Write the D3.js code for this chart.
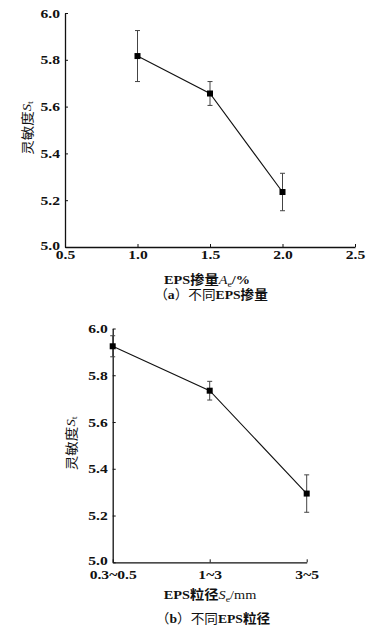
<!DOCTYPE html>
<html><head><meta charset="utf-8">
<script src="https://cdn.jsdelivr.net/npm/d3@7"></script>
<style>
html,body{margin:0;padding:0;background:#fff;}
svg{display:block;}
.tick text{font-family:"Liberation Serif","Times New Roman",serif;font-weight:bold;font-size:13px;fill:#111;}
.lbl{font-family:"Liberation Serif","Noto Sans CJK SC",serif;font-size:13px;fill:#111;}
</style></head>
<body>
<script>
// ---- data ----
const amounts = [1.0, 1.5, 2.0];            // EPS 掺量 A_e / %
const sensA = [5.816, 5.656, 5.235];        // 灵敏度 S_t
const errA = [0.109, 0.051, 0.080];
const xTicksA = [0.5, 1.0, 1.5, 2.0, 2.5];

const sizes = ["0.3~0.5", "1~3", "3~5"];    // EPS 粒径 S_e / mm
const sensB = [5.924, 5.734, 5.294];
const errB = [0.045, 0.040, 0.080];

const yTicks = [5.0, 5.2, 5.4, 5.6, 5.8, 6.0];

const W = 378, H = 634;
const SX = 1.2;
const svg = d3.select("body").append("svg").attr("width", W).attr("height", H);

function panel(o) {
  const g = svg.append("g");
  const y = d3.scaleLinear().domain([5.0, 6.0]).range([o.bottom, o.top]);
  const x = o.x;
  const ya = g.append("g").attr("transform", `translate(${o.left},0)`)
    .call(d3.axisLeft(y).tickValues(yTicks).tickFormat(d3.format(".1f")).tickSize(-3).tickSizeOuter(0).tickPadding(5));
  const xa = g.append("g").attr("transform", `translate(0,${o.bottom})`)
    .call(d3.axisBottom(x).tickValues(o.xTickVals).tickFormat(o.xFmt).tickSize(-3).tickSizeOuter(0).tickPadding(o.xPad));
  [ya, xa].forEach(a => {
    a.select(".domain").attr("stroke", "#111").attr("stroke-width", 1.3);
    a.selectAll(".tick line").attr("stroke", "#111").attr("stroke-width", 1);
  });
  ya.selectAll(".tick text").attr("x", -5 / SX).attr("transform", `scale(${SX},1)`);
  xa.selectAll(".tick text").attr("transform", `scale(${SX},1)`);
  ya.selectAll(".tick").filter(d => d === 5.0).select("text").attr("dy", "0.2em");

  const pts = o.xs.map((v, i) => ({ x: x(v), v: o.vals[i], e: o.errs[i] }));
  const eb = g.append("g").attr("stroke", "#444").attr("stroke-width", 1);
  pts.forEach(p => {
    eb.append("line").attr("x1", p.x).attr("x2", p.x).attr("y1", y(p.v + p.e)).attr("y2", y(p.v - p.e));
    eb.append("line").attr("x1", p.x - 2.5).attr("x2", p.x + 2.5).attr("y1", y(p.v + p.e)).attr("y2", y(p.v + p.e));
    eb.append("line").attr("x1", p.x - 2.5).attr("x2", p.x + 2.5).attr("y1", y(p.v - p.e)).attr("y2", y(p.v - p.e));
  });
  g.append("path").datum(pts)
    .attr("d", d3.line().x(d => d.x).y(d => y(d.v)))
    .attr("fill", "none").attr("stroke", "#111").attr("stroke-width", 1.1);
  g.selectAll("rect.m").data(pts).enter().append("rect")
    .attr("x", d => d.x - 3).attr("y", d => y(d.v) - 3).attr("width", 6).attr("height", 6).attr("fill", "#000");

  // y title
  const yt = g.append("text").attr("class", "lbl")
    .attr("transform", `translate(${o.ytX},${(o.top + o.bottom) / 2 - 2}) rotate(-90) scale(1.12,1)`)
    .attr("text-anchor", "middle").attr("dominant-baseline", "central").attr("font-size", "14px");
  yt.append("tspan").attr("font-family", "Noto Sans CJK SC").text("灵敏度");
  yt.append("tspan").attr("font-style", "italic").text("S");
  yt.append("tspan").attr("font-size", "9px").attr("dy", "3").text("t");

  // x title
  const xt = g.append("text").attr("class", "lbl")
    .attr("transform", `translate(${o.xtX},${o.xtY}) scale(1.1,1)`).attr("text-anchor", "middle");
  o.xTitle(xt);

  // caption
  const cp = g.append("text").attr("class", "lbl")
    .attr("transform", `translate(${o.capX},${o.capY}) scale(1.05,1)`).attr("text-anchor", "middle");
  cp.append("tspan").attr("font-family", "Noto Sans CJK SC").text("（");
  cp.append("tspan").attr("font-weight", "bold").text(o.capLetter);
  cp.append("tspan").attr("font-family", "Noto Sans CJK SC").text("）不同");
  cp.append("tspan").attr("font-weight", "bold").text("EPS");
  cp.append("tspan").attr("font-family", "Noto Sans CJK SC").attr("font-weight", "bold").text(o.capTail);
}

panel({
  left: 65, top: 13, bottom: 247,
  x: d3.scaleLinear().domain([0.5, 2.5]).range([65, 355]),
  xTickVals: xTicksA, xFmt: d3.format(".1f"), xPad: 3,
  xs: amounts, vals: sensA, errs: errA,
  ytX: 26, xtX: 207, xtY: 284, capX: 211, capY: 299,
  capLetter: "a", capTail: "掺量",
  xTitle: t => {
    t.append("tspan").attr("font-weight", "bold").text("EPS");
    t.append("tspan").attr("font-family", "Noto Sans CJK SC").attr("font-weight", "bold").text("掺量");
    t.append("tspan").attr("font-style", "italic").text("A");
    t.append("tspan").attr("font-size", "9px").attr("dy", "3").text("e");
    t.append("tspan").attr("font-weight", "bold").attr("dy", "-3").text("/%");
  }
});

panel({
  left: 112.7, top: 328.5, bottom: 562.3,
  x: d3.scalePoint().domain(sizes).range([112.7, 306.7]).padding(0),
  xTickVals: sizes, xFmt: d => d, xPad: 7,
  xs: sizes, vals: sensB, errs: errB,
  ytX: 70, xtX: 210, xtY: 599, capX: 213, capY: 623,
  capLetter: "b", capTail: "粒径",
  xTitle: t => {
    t.append("tspan").attr("font-weight", "bold").text("EPS");
    t.append("tspan").attr("font-family", "Noto Sans CJK SC").attr("font-weight", "bold").text("粒径");
    t.append("tspan").attr("font-style", "italic").text("S");
    t.append("tspan").attr("font-size", "9px").attr("dy", "3").text("e");
    t.append("tspan").attr("dy", "-3").text("/mm");
  }
});
</script>
</body></html>
